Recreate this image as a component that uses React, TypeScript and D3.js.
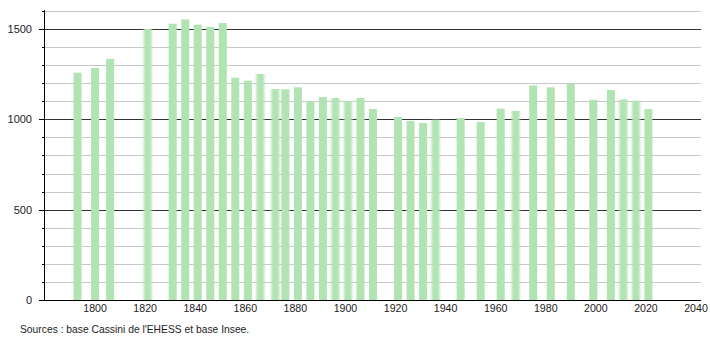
import React from "react";
import * as d3 from "d3";

const years = [1793, 1800, 1806, 1821, 1831, 1836, 1841, 1846, 1851, 1856, 1861, 1866, 1872, 1876, 1881, 1886, 1891, 1896, 1901, 1906, 1911, 1921, 1926, 1931, 1936, 1946, 1954, 1962, 1968, 1975, 1982, 1990, 1999, 2006, 2011, 2016, 2021];
const population = [1258, 1284, 1334, 1500, 1529, 1553, 1524, 1512, 1533, 1230, 1214, 1251, 1168, 1166, 1177, 1100, 1123, 1118, 1101, 1118, 1057, 1013, 991, 980, 998, 1007, 985, 1059, 1046, 1188, 1177, 1197, 1108, 1162, 1110, 1103, 1057];
const xTickLabels = [1800, 1820, 1840, 1860, 1880, 1900, 1920, 1940, 1960, 1980, 2000, 2020, 2040];
const yMajorTicks = [0, 500, 1000, 1500];
const softYears = [1821, 1866, 1872, 1896, 1901, 1936, 1968, 2011, 2016];
const sourceText = "Sources : base Cassini de l'EHESS et base Insee.";

const W = 710;
const H = 340;
const left = 44;
const right = 701;
const top = 10;
const bottom = 300;

export default function App() {
  const x = d3.scaleLinear().domain([1780, 2042]).range([45, right]);
  const y = d3.scaleLinear().domain([0, 1600]).range([bottom, top + 0.9]);
  const minor = d3.range(100, 1700, 100).filter((v) => v % 500 !== 0);
  const barW = 8;
  const font = "'Liberation Sans', Arial, Helvetica, sans-serif";

  return (
    <svg
      width={W}
      height={H}
      style={{ position: "absolute", left: 0, top: 0, background: "#fff" }}
      fontFamily={font}
    >
      <defs>
        <filter id="soft" x="-50%" y="0%" width="200%" height="100%">
          <feGaussianBlur stdDeviation="1.3 0" />
        </filter>
      </defs>
      {minor.map((v) => (
        <line key={"mg" + v} x1={left} x2={right} y1={Math.round(y(v)) + 0.5} y2={Math.round(y(v)) + 0.5} stroke="#c8c8c8" strokeWidth={1} />
      ))}
      {yMajorTicks.filter((v) => v > 0).map((v) => (
        <line key={"Mg" + v} x1={left} x2={right} y1={Math.round(y(v)) + 0.5} y2={Math.round(y(v)) + 0.5} stroke="#333" strokeWidth={1} />
      ))}
      {years.map((yr, i) => (
        <rect
          key={yr}
          x={x(yr) - barW / 2}
          y={y(population[i])}
          width={barW}
          height={bottom - y(population[i])}
          fill="#b2e3b2"
          filter={softYears.includes(yr) ? "url(#soft)" : undefined}
        />
      ))}
      <line x1={left + 0.5} x2={left + 0.5} y1={top} y2={bottom} stroke="#000" strokeWidth={1} />
      {minor.map((v) => (
        <line key={"mt" + v} x1={left - 2} x2={left} y1={Math.round(y(v)) + 0.5} y2={Math.round(y(v)) + 0.5} stroke="#000" strokeWidth={1} />
      ))}
      {yMajorTicks.map((v) => (
        <line key={"Mt" + v} x1={left - 5} x2={left} y1={Math.round(y(v)) + 0.5} y2={Math.round(y(v)) + 0.5} stroke="#000" strokeWidth={1} />
      ))}
      {yMajorTicks.map((v) => (
        <text key={"yl" + v} x={32} y={y(v) + 4} textAnchor="end" fontSize={11} fill="#222">
          {v}
        </text>
      ))}
      <line x1={left} x2={right} y1={bottom + 0.5} y2={bottom + 0.5} stroke="#000" strokeWidth={1} />
      {xTickLabels.map((t) => (
        <text key={"xl" + t} x={x(t)} y={312} textAnchor="middle" fontSize={10.6} fill="#222">
          {t}
        </text>
      ))}
      <text x={20} y={333} fontSize={10.3} fill="#222">
        {sourceText}
      </text>
    </svg>
  );
}
